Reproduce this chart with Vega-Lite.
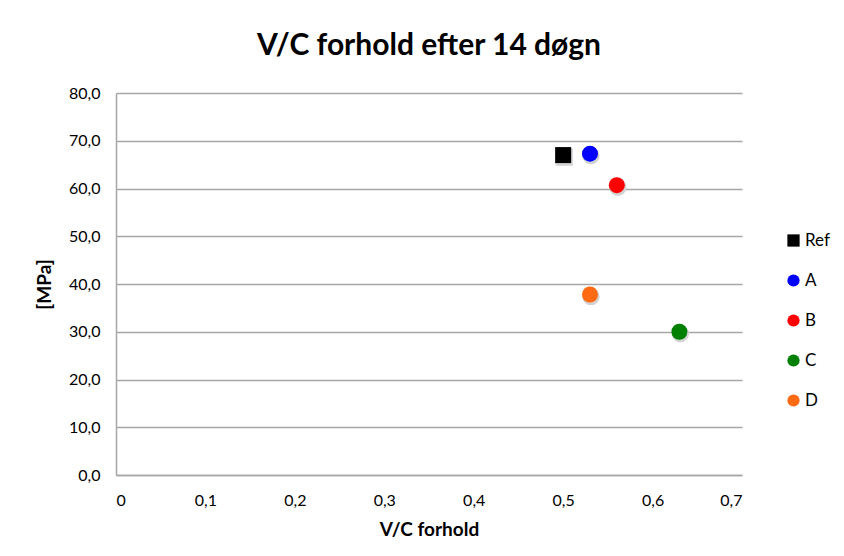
{
  "$schema": "https://vega.github.io/schema/vega-lite/v6.json",
  "width": 626,
  "height": 382,
  "autosize": {"type": "none"},
  "padding": {"left": 116, "top": 93, "right": 102, "bottom": 81},
  "background": "white",
  "config": {
    "locale": {"number": {"decimal": ",", "thousands": ".", "grouping": [3], "currency": ["", " kr"]}},
    "font": "Lato",
    "view": {"stroke": null}
  },
  "title": {
    "text": "V/C forhold efter 14 døgn",
    "font": "Lato",
    "fontSize": 30,
    "fontWeight": "bold",
    "color": "#000000",
    "anchor": "middle",
    "frame": "group",
    "offset": 24
  },
  "data": {
    "values": [
      {"serie": "Ref", "vc": 0.50, "mpa": 67.0},
      {"serie": "A", "vc": 0.53, "mpa": 67.3},
      {"serie": "B", "vc": 0.56, "mpa": 60.7},
      {"serie": "C", "vc": 0.63, "mpa": 30.0},
      {"serie": "D", "vc": 0.53, "mpa": 37.8}
    ]
  },
  "encoding": {
    "x": {
      "field": "vc",
      "type": "quantitative",
      "title": "V/C forhold",
      "scale": {"domain": [0, 0.7], "nice": false, "zero": true},
      "axis": {
        "values": [0, 0.1, 0.2, 0.3, 0.4, 0.5, 0.6, 0.7],
        "format": ".1~f",
        "grid": false,
        "ticks": false,
        "domainColor": "#a6a6a6",
        "domainWidth": 1.5,
        "labelFont": "Lato",
        "labelFontSize": 16,
        "labelColor": "#000000",
        "labelPadding": 17,
        "titleFont": "Lato",
        "titleFontSize": 19,
        "titleFontWeight": "bold",
        "titleColor": "#000000",
        "titlePadding": 12
      }
    },
    "y": {
      "field": "mpa",
      "type": "quantitative",
      "title": "[MPa]",
      "scale": {"domain": [0, 80], "nice": false},
      "axis": {
        "values": [0, 10, 20, 30, 40, 50, 60, 70, 80],
        "format": ".1f",
        "grid": true,
        "gridColor": "#a6a6a6",
        "gridWidth": 1.5,
        "ticks": false,
        "domainColor": "#a6a6a6",
        "domainWidth": 1.5,
        "labelFont": "Lato",
        "labelFontSize": 16,
        "labelColor": "#000000",
        "labelPadding": 16,
        "titleFont": "Lato",
        "titleFontSize": 19,
        "titleFontWeight": "bold",
        "titleColor": "#000000",
        "titlePadding": 14
      }
    },
    "shape": {
      "field": "serie",
      "type": "nominal",
      "scale": {"domain": ["Ref", "A", "B", "C", "D"], "range": ["square", "circle", "circle", "circle", "circle"]}
    }
  },
  "layer": [
    {
      "mark": {"type": "point", "filled": true, "size": 300, "color": "#d2d2d2", "opacity": 1, "xOffset": 1, "yOffset": 2, "strokeWidth": 0}
    },
    {
      "mark": {"type": "point", "filled": true, "size": 256, "opacity": 1, "strokeWidth": 0},
      "encoding": {
        "color": {
          "field": "serie",
          "type": "nominal",
          "scale": {"domain": ["Ref", "A", "B", "C", "D"], "range": ["#000000", "#0000ff", "#ff0000", "#008000", "#ff6a13"]},
          "legend": {
            "title": null,
            "orient": "none",
            "legendX": 669,
            "legendY": 139,
            "symbolSize": 150,
            "labelFont": "Lato",
            "labelFontSize": 17,
            "labelColor": "#000000",
            "rowPadding": 22,
            "labelOffset": 3,
            "symbolStrokeWidth": 0,
            "encode": {"symbols": {"update": {"opacity": {"value": 1}, "fillOpacity": {"value": 1}}}}
          }
        }
      }
    }
  ]
}
